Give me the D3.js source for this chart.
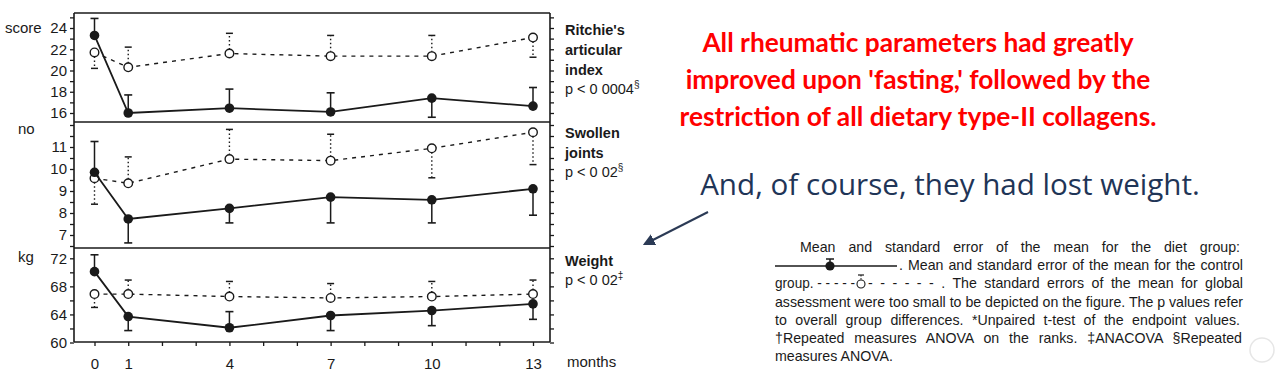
<!DOCTYPE html>
<html>
<head>
<meta charset="utf-8">
<script src="https://cdn.jsdelivr.net/npm/d3@7"></script>
<style>
  html, body { margin: 0; padding: 0; background: #fff; }
  svg { display: block; }
</style>
</head>
<body>
<svg id="chart" width="1281" height="371"></svg>
<script>
// Months of follow-up and the labelled ones
const months = [0, 1, 4, 7, 10, 13];
const monthTicks = [0, 1, 2, 3, 4, 5, 6, 7, 8, 9, 10, 11, 12, 13];
const monthLabels = [0, 1, 4, 7, 10, 13];

// Ritchie's articular index (score): means and end of the SE bar
const ritchieDiet = [23.3, 16.0, 16.45, 16.1, 17.4, 16.65];
const ritchieDietBar = [24.9, 17.7, 18.25, 17.9, 15.6, 18.4];
const ritchieCtrl = [21.7, 20.3, 21.6, 21.35, 21.35, 23.1];
const ritchieCtrlBar = [20.2, 22.2, 23.5, 23.3, 23.3, 21.25];

// Swollen joints (no)
const swollenDiet = [9.85, 7.73, 8.21, 8.72, 8.6, 9.1];
const swollenDietBar = [11.25, 6.64, 7.55, 7.55, 7.55, 7.9];
const swollenCtrl = [9.58, 9.35, 10.45, 10.38, 10.94, 11.67];
const swollenCtrlBar = [8.4, 10.55, 11.8, 11.58, 9.6, 10.2];

// Weight (kg)
const weightDiet = [70.1, 63.7, 62.1, 63.85, 64.55, 65.5];
const weightDietBar = [72.5, 61.7, 64.4, 61.7, 62.4, 63.3];
const weightCtrl = [66.9, 66.9, 66.55, 66.35, 66.55, 66.9];
const weightCtrlBar = [65.0, 68.9, 68.7, 68.4, 68.7, 68.9];

// Axis ticks
const ritchieTicks = [16, 17, 18, 19, 20, 21, 22, 23, 24, 25];
const ritchieLabels = [16, 18, 20, 22, 24];
const swollenTicks = [6.5, 7, 7.5, 8, 8.5, 9, 9.5, 10, 10.5, 11, 11.5, 12];
const swollenLabels = [7, 8, 9, 10, 11];
const weightTicks = [60, 62, 64, 66, 68, 70, 72];
const weightLabels = [60, 64, 68, 72];

// Texts
const headline = [
    "All rheumatic parameters had greatly",
    "improved upon 'fasting,' followed by the",
    "restriction of all dietary type-II collagens."
];
const subline = "And, of course, they had lost weight.";

const ink = "#1a1a1a";
const svg = d3.select("#chart");

const left = 74, right = 550;
const x = d3.scaleLinear().domain([0, 13]).range([94.5, 533]);

// Panels of the figure
const panels = [
    { unit: "score", unitY: 33, top: 13, bottom: 122,
      y: d3.scaleLinear().domain([16, 24]).range([113, 28]),
      ticks: ritchieTicks, labels: ritchieLabels,
      diet: ritchieDiet, dietBar: ritchieDietBar, ctrl: ritchieCtrl, ctrlBar: ritchieCtrlBar,
      title: ["Ritchie's", "articular", "index"], titleY: 35, p: "p < 0 0004", mark: "§" },
    { unit: "no", unitY: 134, top: 122, bottom: 248,
      y: d3.scaleLinear().domain([7, 11]).range([235, 147]),
      ticks: swollenTicks, labels: swollenLabels,
      diet: swollenDiet, dietBar: swollenDietBar, ctrl: swollenCtrl, ctrlBar: swollenCtrlBar,
      title: ["Swollen", "joints"], titleY: 138, p: "p < 0 02", mark: "§" },
    { unit: "kg", unitY: 262, top: 248, bottom: 342,
      y: d3.scaleLinear().domain([60, 72]).range([342.5, 258.3]),
      ticks: weightTicks, labels: weightLabels,
      diet: weightDiet, dietBar: weightDietBar, ctrl: weightCtrl, ctrlBar: weightCtrlBar,
      title: ["Weight"], titleY: 266, p: "p < 0 02", mark: "‡" }
];

const fig = svg.append("g").attr("font-family", "'Liberation Sans', Arial, sans-serif");

panels.forEach(p => {
    // Left axis with labels
    const ax = fig.append("g")
        .attr("transform", `translate(${left},0)`)
        .call(d3.axisLeft(p.y)
            .tickValues(p.ticks)
            .tickSize(4)
            .tickPadding(3)
            .tickFormat(d => p.labels.includes(d) ? d : ""));
    ax.select(".domain").remove();
    ax.selectAll(".tick line").attr("stroke", ink).attr("stroke-width", 1.3);
    ax.selectAll(".tick text").attr("fill", ink).attr("font-size", 15);

    // Right axis, ticks only
    const axr = fig.append("g")
        .attr("transform", `translate(${right},0)`)
        .call(d3.axisRight(p.y).tickValues(p.ticks).tickSize(4).tickFormat(""));
    axr.select(".domain").remove();
    axr.selectAll(".tick line").attr("stroke", ink).attr("stroke-width", 1.3);

    // Unit label
    fig.append("text").attr("x", p.unit === "score" ? 5 : 18).attr("y", p.unitY)
        .attr("font-size", 15).attr("fill", ink).text(p.unit);

    // Title at the right
    const tg = fig.append("g").attr("fill", ink);
    p.title.forEach((t, i) => {
        tg.append("text").attr("x", 565).attr("y", p.titleY + i * 20)
            .attr("font-size", 14.5).attr("font-weight", "bold").text(t);
    });
    const pt = tg.append("text").attr("x", 565).attr("y", p.titleY + p.title.length * 20 - 1)
        .attr("font-size", 14.5).text(p.p);
    pt.append("tspan").attr("font-size", 10).attr("dy", -6).text(p.mark);

    const ctrlPts = months.map((m, i) => ({ m, v: p.ctrl[i], b: p.ctrlBar[i] }));
    const dietPts = months.map((m, i) => ({ m, v: p.diet[i], b: p.dietBar[i] }));
    const line = d3.line().x(d => x(d.m)).y(d => p.y(d.v));

    // Control group: dotted error bars and dashed line
    const cg = fig.append("g");
    ctrlPts.forEach(d => {
        cg.append("line").attr("x1", x(d.m)).attr("x2", x(d.m))
            .attr("y1", p.y(d.v)).attr("y2", p.y(d.b))
            .attr("stroke", ink).attr("stroke-width", 1.4).attr("stroke-dasharray", "1.5,2.5");
        cg.append("line").attr("x1", x(d.m) - 3.5).attr("x2", x(d.m) + 3.5)
            .attr("y1", p.y(d.b)).attr("y2", p.y(d.b))
            .attr("stroke", ink).attr("stroke-width", 1.5);
    });
    cg.append("path").datum(ctrlPts).attr("d", line)
        .attr("fill", "none").attr("stroke", ink).attr("stroke-width", 1.4)
        .attr("stroke-dasharray", "4,5");

    // Diet group: solid error bars and line
    const dg = fig.append("g");
    dietPts.forEach(d => {
        dg.append("line").attr("x1", x(d.m)).attr("x2", x(d.m))
            .attr("y1", p.y(d.v)).attr("y2", p.y(d.b))
            .attr("stroke", ink).attr("stroke-width", 1.5);
        dg.append("line").attr("x1", x(d.m) - 4).attr("x2", x(d.m) + 4)
            .attr("y1", p.y(d.b)).attr("y2", p.y(d.b))
            .attr("stroke", ink).attr("stroke-width", 1.6);
    });
    dg.append("path").datum(dietPts).attr("d", line)
        .attr("fill", "none").attr("stroke", ink).attr("stroke-width", 1.8);

    // Markers
    cg.selectAll("circle").data(ctrlPts).enter().append("circle")
        .attr("cx", d => x(d.m)).attr("cy", d => p.y(d.v)).attr("r", 4.3)
        .attr("fill", "#fff").attr("stroke", ink).attr("stroke-width", 1.4);
    dg.selectAll("circle").data(dietPts).enter().append("circle")
        .attr("cx", d => x(d.m)).attr("cy", d => p.y(d.v)).attr("r", 4.8)
        .attr("fill", ink);
});

// Frame
const frame = fig.append("g").attr("stroke", ink).attr("stroke-width", 1.6);
[13, 122, 248, 342].forEach(yy => {
    frame.append("line").attr("x1", left).attr("x2", right).attr("y1", yy).attr("y2", yy);
});
frame.append("line").attr("x1", left).attr("x2", left).attr("y1", 13).attr("y2", 342);
frame.append("line").attr("x1", right).attr("x2", right).attr("y1", 13).attr("y2", 342);

// Month axis
const xa = fig.append("g").attr("transform", "translate(0,342)")
    .call(d3.axisBottom(x).tickValues(monthTicks).tickSize(4).tickPadding(12)
        .tickFormat(d => monthLabels.includes(d) ? d : ""));
xa.select(".domain").remove();
xa.selectAll(".tick line").attr("stroke", ink).attr("stroke-width", 1.3);
xa.selectAll(".tick text").attr("fill", ink).attr("font-size", 15);
fig.append("text").attr("x", 567).attr("y", 367).attr("font-size", 15)
    .attr("fill", ink).text("months");

// Red headline, sized to its measured width
const hl = svg.append("g").attr("font-family", "Lato, 'Noto Sans', sans-serif")
    .attr("font-weight", "bold").attr("fill", "#ff0000").attr("text-anchor", "middle");
const hlNodes = headline.map((t, i) =>
    hl.append("text").attr("x", 918).attr("y", 52 + i * 37).attr("font-size", 28).text(t));
const w2 = hlNodes[1].node().getComputedTextLength();
const hlSize = 28 * 465 / w2;
hlNodes.forEach(n => n.attr("font-size", hlSize));

const sub = svg.append("text").attr("x", 950).attr("y", 195)
    .attr("font-family", "'Open Sans', 'Noto Sans', sans-serif")
    .attr("fill", "#1f3557").attr("text-anchor", "middle").attr("font-size", 24).text(subline);
const ws = sub.node().getComputedTextLength();
sub.attr("font-size", 24 * 500 / ws);

// Arrow
svg.append("defs").append("marker").attr("id", "head")
    .attr("viewBox", "0 0 10 10").attr("refX", 8).attr("refY", 5)
    .attr("markerWidth", 6).attr("markerHeight", 6).attr("orient", "auto")
    .append("path").attr("d", "M0,0 L10,5 L0,10 z").attr("fill", "#2b3a55");
svg.append("line").attr("x1", 708).attr("y1", 212).attr("x2", 645).attr("y2", 244)
    .attr("stroke", "#2b3a55").attr("stroke-width", 2).attr("marker-end", "url(#head)");

// Caption block, justified by stretching the spaces between words
const cap = svg.append("g").attr("font-family", "'Liberation Sans', Arial, sans-serif")
    .attr("font-size", 14.2).attr("fill", ink);
function capLine(x0, x1, y, t) {
    const el = cap.append("text").attr("x", x0).attr("y", y).text(t);
    if (x1) {
        const natural = el.node().getComputedTextLength();
        const gaps = (t.match(/ /g) || []).length;
        const extra = (x1 - x0) - natural;
        if (extra > 0 && gaps > 0) {
            el.attr("word-spacing", extra / gaps);
        } else {
            el.attr("textLength", x1 - x0).attr("lengthAdjust", "spacingAndGlyphs");
        }
    }
    return el;
}
capLine(800, 1240, 252, "Mean and standard error of the mean for the diet group:");
// Diet symbol
cap.append("line").attr("x1", 775).attr("x2", 897).attr("y1", 266).attr("y2", 266)
    .attr("stroke", ink).attr("stroke-width", 1.3);
cap.append("line").attr("x1", 830).attr("x2", 830).attr("y1", 259).attr("y2", 266)
    .attr("stroke", ink).attr("stroke-width", 1.5);
cap.append("line").attr("x1", 826).attr("x2", 834).attr("y1", 259).attr("y2", 259)
    .attr("stroke", ink).attr("stroke-width", 1.5);
cap.append("circle").attr("cx", 830).attr("cy", 266).attr("r", 4.6).attr("fill", ink);
capLine(899, 1243, 270, ". Mean and standard error of the mean for the control");
capLine(775, 855, 288, "group. - - - - -");
// Control symbol
cap.append("line").attr("x1", 861).attr("x2", 861).attr("y1", 275).attr("y2", 280)
    .attr("stroke", ink).attr("stroke-width", 1).attr("stroke-dasharray", "1.5,1.5");
cap.append("line").attr("x1", 858).attr("x2", 864).attr("y1", 275).attr("y2", 275)
    .attr("stroke", ink).attr("stroke-width", 1.2);
cap.append("circle").attr("cx", 861).attr("cy", 284).attr("r", 4).attr("fill", "#fff")
    .attr("stroke", ink).attr("stroke-width", 1.1);
capLine(868, 1243, 288, "- - - - - - . The standard errors of the mean for global");
capLine(775, 1243, 307, "assessment were too small to be depicted on the figure. The p values refer");
capLine(775, 1240, 325, "to overall group differences. *Unpaired t-test of the endpoint values.");
capLine(775, 1242, 343, "†Repeated measures ANOVA on the ranks. ‡ANACOVA §Repeated");
capLine(775, null, 361, "measures ANOVA.");

// Faint round control at the edge of the screenshot
svg.append("circle").attr("cx", 1262).attr("cy", 350).attr("r", 12)
    .attr("fill", "#fff").attr("stroke", "#e6e6e6").attr("stroke-width", 1.5);
</script>
</body>
</html>
